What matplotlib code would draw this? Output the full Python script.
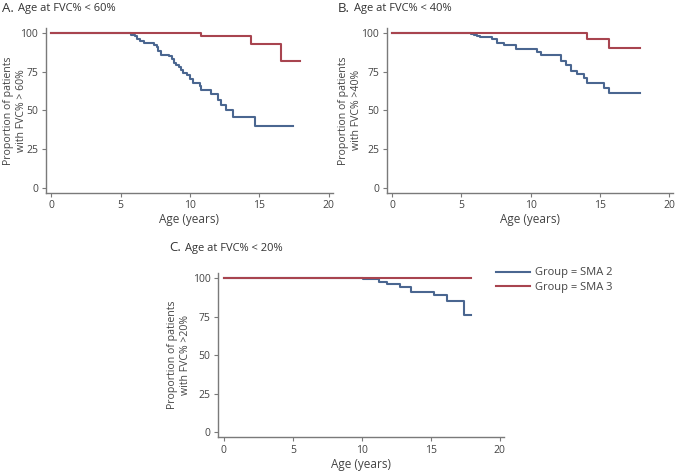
import matplotlib
matplotlib.use("Agg")
import matplotlib.pyplot as plt

plt.rcParams['font.family'] = ['Open Sans', 'DejaVu Sans']

# Panel A: Age at FVC% < 60%
a_sma2_t = [0, 5.76, 6.0, 6.2, 6.4, 6.7, 7.4, 7.6, 7.7, 7.9, 8.5, 8.7, 8.85, 9.0, 9.2, 9.35,
            9.5, 9.75, 10.0, 10.2, 10.7, 10.8, 11.5, 12.0, 12.2, 12.6, 13.1, 14.65, 17.45]
a_sma2_s = [100, 99, 98, 96.5, 95, 93.5, 92.5, 91, 88.5, 86, 85, 83, 81, 79.5, 78, 76,
            74.5, 73, 70.5, 68, 66, 63.5, 60.5, 57, 53.5, 50, 46, 40, 40]
a_sma3_t = [0, 10.76, 14.4, 16.57, 17.9]
a_sma3_s = [100, 98, 93.3, 82, 82]

# Panel B: Age at FVC% < 40%
b_sma2_t = [0, 5.66, 5.9, 6.14, 6.33, 7.23, 7.59, 8.07, 8.92, 10.48, 10.72, 12.17, 12.53,
            12.89, 13.38, 13.85, 14.1, 15.3, 15.66, 17.9]
b_sma2_s = [100, 99.3, 98.7, 98, 97.4, 96.3, 93.5, 92.3, 89.8, 87.7, 85.8, 82.2, 79.4,
            75.7, 73.4, 70.8, 67.9, 64.5, 61.5, 61.5]
b_sma3_t = [0, 14.1, 15.66, 17.88]
b_sma3_s = [100, 96.1, 90.7, 90.7]

# Panel C: Age at FVC% < 20%
c_sma2_t = [0, 10.07, 11.27, 11.82, 12.73, 13.58, 15.23, 16.19, 17.42, 17.9]
c_sma2_s = [100, 99.3, 97.8, 96.3, 94.2, 91.3, 89.2, 85.3, 76.2, 76.2]
c_sma3_t = [0, 17.9]
c_sma3_s = [100, 100]

panel_letters = ["A.", "B.", "C."]
panel_titles = ["Age at FVC% < 60%", "Age at FVC% < 40%", "Age at FVC% < 20%"]
ylabels = ["Proportion of patients\nwith FVC% > 60%",
           "Proportion of patients\nwith FVC% >40%",
           "Proportion of patients\nwith FVC% >20%"]
xticks = [0, 5, 10, 15, 20]
yticks = [0, 25, 50, 75, 100]
group_labels = ["Group = SMA 2", "Group = SMA 3"]

BLUE = "#4a6690"
RED = "#a8444f"
GRAY = "#7a7a7a"
TXT = "#444444"

W, H = 675, 471
fig = plt.figure(figsize=(6.75, 4.71), dpi=100)

def rect(l, t, r, b):
    return [l / W, 1 - b / H, (r - l) / W, (b - t) / H]

axes_rects = [rect(45.7, 28, 333, 192.7), rect(386.7, 28, 673.3, 192.7), rect(218.3, 273, 504, 437.3)]
ylabel_x = [15.5, 350, 179.5]
data = [(a_sma2_t, a_sma2_s, a_sma3_t, a_sma3_s),
        (b_sma2_t, b_sma2_s, b_sma3_t, b_sma3_s),
        (c_sma2_t, c_sma2_s, c_sma3_t, c_sma3_s)]
title_pos = [(2, 11.5), (338, 11.5), (169, 251)]

for i, r in enumerate(axes_rects):
    ax = fig.add_axes(r)
    t2, s2, t3, s3 = data[i]
    l2, = ax.step(t2, s2, where='post', color=BLUE, lw=1.5, label=group_labels[0])
    l3, = ax.step(t3, s3, where='post', color=RED, lw=1.5, label=group_labels[1])
    ax.set_xlim(-0.4, 20.3)
    ax.set_ylim(-3.3, 103.4)
    ax.set_xticks(xticks)
    ax.set_yticks(yticks)
    for sp in ['top', 'right']:
        ax.spines[sp].set_visible(False)
    for sp in ['left', 'bottom']:
        ax.spines[sp].set_color(GRAY)
        ax.spines[sp].set_linewidth(1.0)
    ax.tick_params(colors=GRAY, labelcolor=TXT, labelsize=7.5, length=3, width=0.8, pad=2.5)
    ax.set_xlabel("Age (years)", fontsize=8.5, color=TXT, labelpad=1.5)
    yc = r[1] + r[3] / 2
    fig.text(ylabel_x[i] / W, yc, ylabels[i], rotation=90, ha='center', va='center',
             fontsize=7.6, color=TXT, linespacing=1.25, multialignment='center')
    x0, y0 = title_pos[i]
    fig.text(x0 / W, 1 - y0 / H, panel_letters[i], fontsize=9.5, color="#333333", va='baseline', ha='left')
    fig.text((x0 + 16) / W, 1 - y0 / H, panel_titles[i], fontsize=8, color="#333333", va='baseline', ha='left')
    if i == 2:
        fig.legend(handles=[l2, l3], labels=group_labels, loc='upper left',
                   bbox_to_anchor=(492 / W, 1 - 263 / H), frameon=False,
                   fontsize=8, handlelength=3.0, handletextpad=0.5, labelspacing=0.3,
                   labelcolor=TXT, borderaxespad=0)

fig.savefig("out.png", dpi=100)
